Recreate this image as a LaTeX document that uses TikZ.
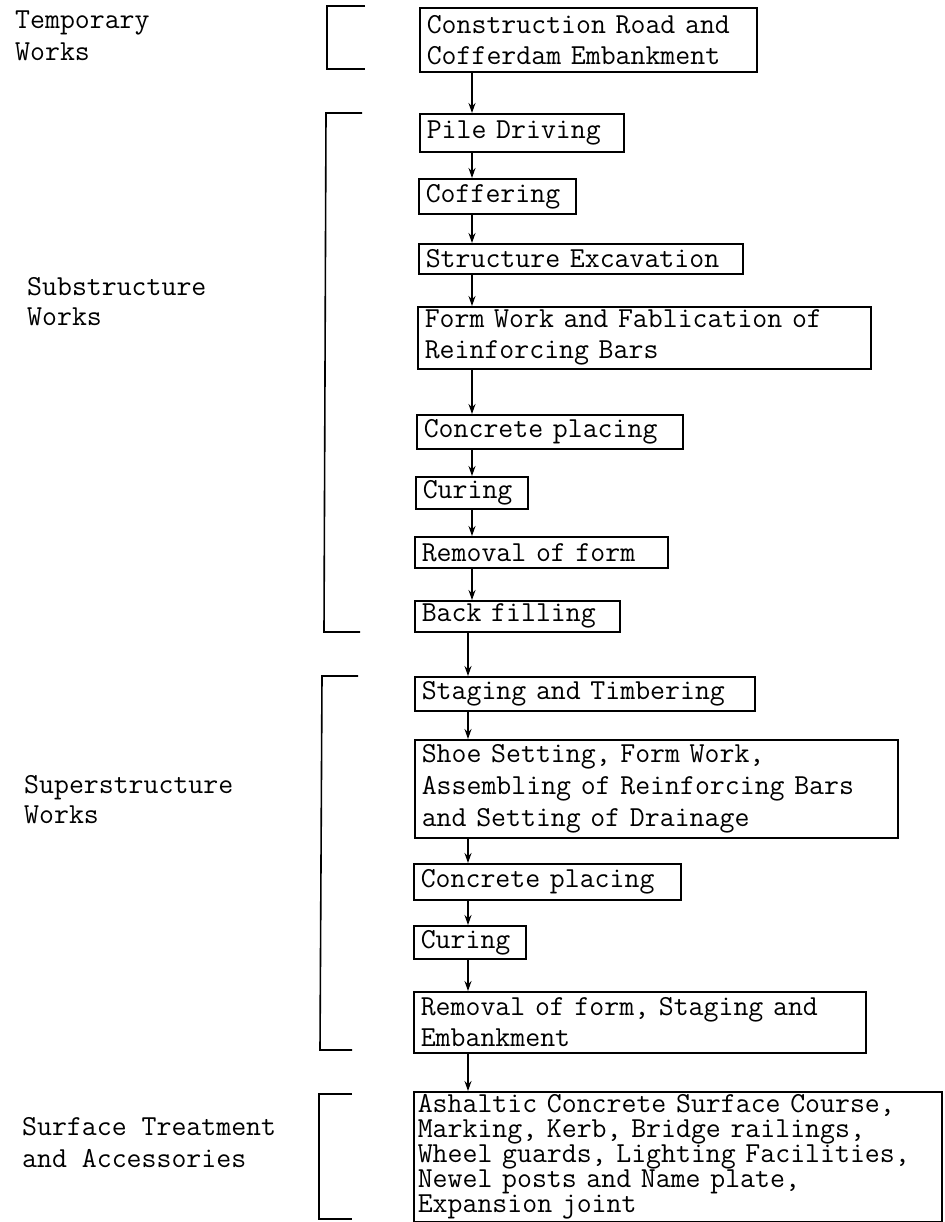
\documentclass[tikz,border=0pt]{standalone}
\usepackage{fontspec}
\usetikzlibrary{arrows.meta}
\tikzset{
  tw/.style={font=\ttfamily\addfontfeatures{FakeBold=1.1}\fontsize{29}{#1}\selectfont},
  tw/.default=31,
  stepbox/.style={tw,draw,line width=1.6pt,anchor=north west,align=left,inner xsep=7pt,inner ysep=0pt},
  lbl/.style={tw,align=left,inner sep=0pt,anchor=base west},
  brk/.style={line width=1.6pt},
  arr/.style={line width=1.4pt,-{Stealth[length=10pt,width=7pt]}},
}
\begin{document}
\begin{tikzpicture}[x=1pt,y=-1pt]
\useasboundingbox (0,0) rectangle (944,1222);
% left labels (anchor = baseline of the last line)
\node[lbl,tw=32] (lt) at (15,61) {Temporary\\Works};
\node[lbl,tw=30] (ls) at (27,325) {Substructure\\Works};
\node[lbl,tw=30] (lp) at (24,823) {Superstructure\\Works};
\node[lbl,tw=32] (lf) at (22,1167) {Surface Treatment\\and Accessories};
% brackets
\draw[brk] (365,6) -- (327,6) -- (327,69) -- (365,69);
\draw[brk] (362,113) -- (326,113) -- (324,632) -- (360,632);
\draw[brk] (358,676) -- (322,676) -- (320,1050) -- (352,1050);
\draw[brk] (352,1094) -- (319,1094) -- (319,1219) -- (352,1219);
% boxes
\node[stepbox,text width=323pt,minimum height=64pt] (b1) at (419,7) {Construction Road and\\Cofferdam Embankment};
\node[stepbox,text width=190pt,minimum height=38pt] (b2) at (419,113) {Pile Driving};
\node[stepbox,text width=143pt,minimum height=35pt] (b3) at (418,178) {Coffering};
\node[stepbox,text width=310pt,minimum height=30pt] (b4) at (418,243) {Structure Excavation};
\node[stepbox,text width=439pt,minimum height=62pt] (b5) at (417,306) {Form Work and Fablication of\\Reinforcing Bars};
\node[stepbox,text width=252pt,minimum height=34pt] (b6) at (416,414) {Concrete placing};
\node[stepbox,text width=98pt,minimum height=32pt] (b7) at (415,476) {Curing};
\node[stepbox,text width=239pt,minimum height=31pt] (b8) at (414,536) {Removal of form};
\node[stepbox,text width=191pt,minimum height=31pt] (b9) at (414,600) {Back filling};
\node[stepbox,text width=326pt,minimum height=34pt] (b10) at (414,676) {Staging and Timbering};
\node[stepbox,text width=469pt,minimum height=98pt,tw=32] (b11) at (414,739) {Shoe Setting, Form Work,\\Assembling of Reinforcing Bars\\and Setting of Drainage};
\node[stepbox,text width=253pt,minimum height=36pt] (b12) at (413,863) {Concrete placing};
\node[stepbox,text width=98pt,minimum height=33pt] (b13) at (413,925) {Curing};
\node[stepbox,text width=438pt,minimum height=61pt] (b14) at (413,991) {Removal of form, Staging and\\Embankment};
\node[stepbox,text width=520pt,inner xsep=4pt,minimum height=130pt,tw=25] (b15) at (413,1091) {Ashaltic Concrete Surface Course,\\Marking, Kerb, Bridge railings,\\Wheel guards, Lighting Facilities,\\Newel posts and Name plate,\\Expansion joint};
% arrows
\coordinate (ax) at (472,0);
\coordinate (bx) at (468,0);
\draw[arr] (b1.south -| ax) -- (b2.north -| ax);
\draw[arr] (b2.south -| ax) -- (b3.north -| ax);
\draw[arr] (b3.south -| ax) -- (b4.north -| ax);
\draw[arr] (b4.south -| ax) -- (b5.north -| ax);
\draw[arr] (b5.south -| ax) -- (b6.north -| ax);
\draw[arr] (b6.south -| ax) -- (b7.north -| ax);
\draw[arr] (b7.south -| ax) -- (b8.north -| ax);
\draw[arr] (b8.south -| ax) -- (b9.north -| ax);
\draw[arr] (b9.south -| bx) -- (b10.north -| bx);
\draw[arr] (b10.south -| bx) -- (b11.north -| bx);
\draw[arr] (b11.south -| bx) -- (b12.north -| bx);
\draw[arr] (b12.south -| bx) -- (b13.north -| bx);
\draw[arr] (b13.south -| bx) -- (b14.north -| bx);
\draw[arr] (b14.south -| bx) -- (b15.north -| bx);
\end{tikzpicture}
\end{document}
